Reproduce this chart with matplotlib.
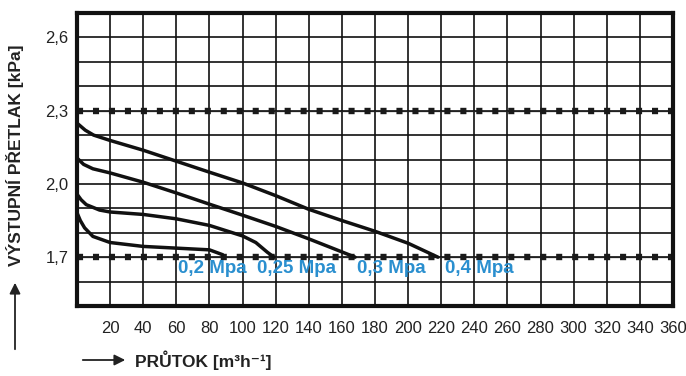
import matplotlib
matplotlib.use("Agg")
import matplotlib.pyplot as plt
from matplotlib.ticker import FixedLocator, FuncFormatter
import numpy as np

plt.rcParams['font.family'] = ['Liberation Sans', 'DejaVu Sans']

# ---- data ----
q_02 = [0, 2, 4.6, 9.6, 20, 40, 60, 80, 88]
p_02 = [1.882, 1.85, 1.82, 1.785, 1.76, 1.744, 1.737, 1.73, 1.71]

q_025 = [0, 2.5, 5.6, 13.6, 20, 40, 60, 80, 100, 108, 115, 119]
p_025 = [1.958, 1.935, 1.915, 1.893, 1.885, 1.875, 1.857, 1.83, 1.787, 1.76, 1.72, 1.70]

q_03 = [0, 4, 9.6, 20, 40, 60, 80, 100, 120, 140, 155, 168]
p_03 = [2.106, 2.08, 2.062, 2.045, 2.007, 1.963, 1.917, 1.872, 1.826, 1.775, 1.735, 1.70]

q_04 = [0, 5, 10, 20, 40, 60, 80, 100, 120, 140, 160, 180, 200, 218]
p_04 = [2.249, 2.22, 2.2, 2.178, 2.138, 2.093, 2.048, 2.004, 1.952, 1.896, 1.85, 1.806, 1.757, 1.70]

series_labels = ["0,2 Mpa", "0,25 Mpa", "0,3 Mpa", "0,4 Mpa"]
ref_levels = [1.7, 2.3]

x_ticks = list(range(20, 361, 20))
x_grid = list(range(0, 361, 20))
y_grid = [round(1.5 + 0.1 * i, 1) for i in range(13)]
y_labeled = [1.7, 2.0, 2.3, 2.6]

# ---- figure ----
fig = plt.figure(figsize=(6.86, 3.76), dpi=100)
ax = fig.add_axes([77/686, 1 - 306/376, (673 - 77)/686, (306 - 13)/376])
ax.set_xlim(0, 360)
ax.set_ylim(1.5, 2.7)

# grid
ax.xaxis.set_major_locator(FixedLocator(x_grid))
ax.yaxis.set_major_locator(FixedLocator(y_grid))
ax.grid(True, color='#111111', lw=1.2)
ax.set_axisbelow(True)

ax.xaxis.set_major_formatter(FuncFormatter(lambda v, p: f"{int(round(v))}" if int(round(v)) in x_ticks else ""))
ax.yaxis.set_major_formatter(FuncFormatter(
    lambda v, p: f"{v:.1f}".replace('.', ',') if any(abs(v - t) < 1e-6 for t in y_labeled) else ""))
ax.tick_params(axis='both', length=0, labelsize=12, colors='#222222')
ax.tick_params(axis='x', pad=11)
ax.tick_params(axis='y', pad=6)

for s in ax.spines.values():
    s.set_linewidth(3.0)
    s.set_color('#111111')
    s.set_zorder(5)

# reference dotted lines
for lvl in ref_levels:
    ax.axhline(lvl, color='#222222', lw=0.9, zorder=3)
    ax.axhline(lvl, color='#1a1a1a', lw=4.6, linestyle=(0, (0.95, 1.55)),
               dash_capstyle='butt', zorder=3)

# curves
for q, p in [(q_02, p_02), (q_025, p_025), (q_03, p_03), (q_04, p_04)]:
    ax.plot(q, p, color='#111111', lw=2.5, solid_joinstyle='round',
            solid_capstyle='round', zorder=4)

# series labels
label_x = [61, 109, 169, 222]
for lx, txt in zip(label_x, series_labels):
    ax.text(lx, 1.652, txt, color='#2a8fcf', fontsize=13.5, fontweight='bold',
            ha='left', va='center', zorder=6)

# axis labels with arrows
fig.text(135/686, 1 - 360/376, "PRŮTOK [m³h⁻¹]", fontsize=12.5, fontweight='bold',
         ha='left', va='center', color='#222222')
fig.patches.append(matplotlib.patches.FancyArrowPatch(
    (80/686, 1 - 360/376), (128/686, 1 - 360/376), transform=fig.transFigure,
    arrowstyle='-|>', mutation_scale=16, lw=1.3, color='#222222'))

fig.text(15/686, 1 - 155/376, "VÝSTUPNÍ PŘETLAK [kPa]", fontsize=12.5, fontweight='bold',
         rotation=90, ha='center', va='center', color='#222222')
fig.patches.append(matplotlib.patches.FancyArrowPatch(
    (15/686, 1 - 352/376), (15/686, 1 - 280/376), transform=fig.transFigure,
    arrowstyle='-|>', mutation_scale=16, lw=1.3, color='#222222'))

fig.savefig("out.png", dpi=100)
